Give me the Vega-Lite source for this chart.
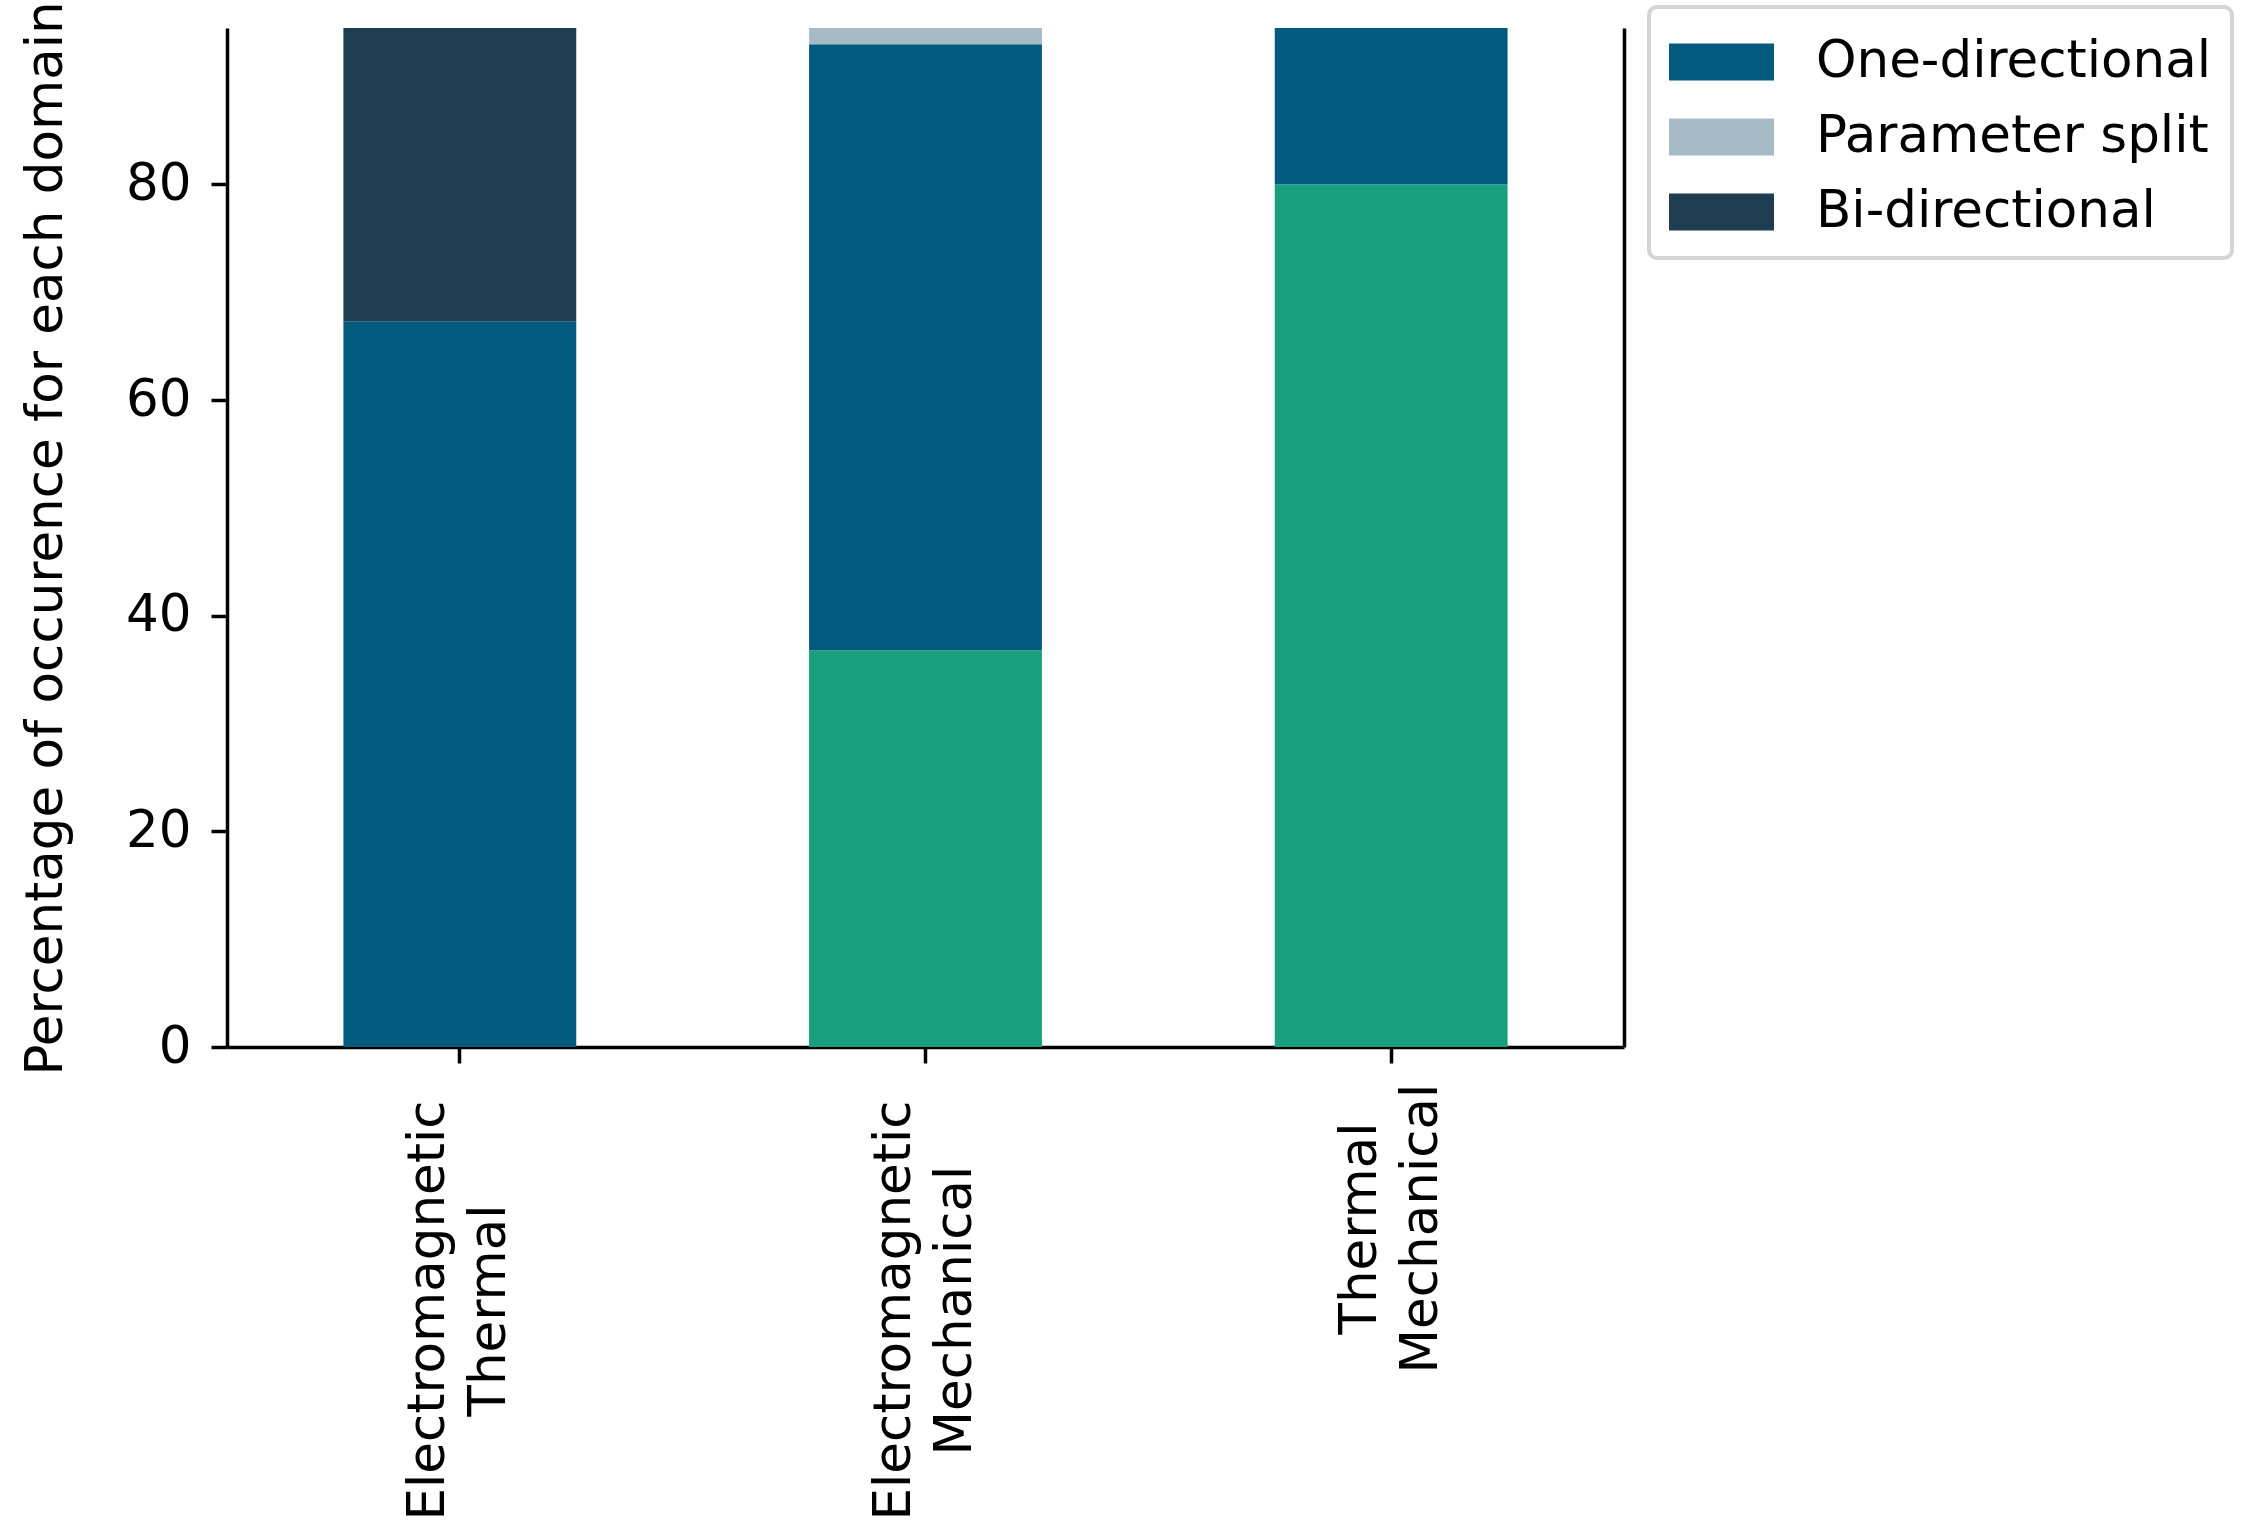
{
  "$schema": "https://vega.github.io/schema/vega-lite/v6.json",
  "width": 1397,
  "height": 1019,
  "autosize": {"type": "none"},
  "padding": {"left": 227, "top": 28, "right": 631, "bottom": 486},
  "background": "white",
  "config": {
    "font": "DejaVu Sans",
    "view": {"stroke": null},
    "axis": {
      "domainColor": "black",
      "domainWidth": 3.5,
      "tickColor": "black",
      "tickWidth": 3.5,
      "tickSize": 16,
      "labelColor": "black",
      "labelFontSize": 51.5,
      "labelFont": "DejaVu Sans",
      "titleFont": "DejaVu Sans",
      "titleFontSize": 51.5,
      "titleFontWeight": "normal",
      "titleColor": "black",
      "grid": false
    }
  },
  "data": {
    "values": [
      {"domain": "Electromagnetic Thermal", "type": "One-directional", "k": 1, "pct": 67.3},
      {"domain": "Electromagnetic Thermal", "type": "Bi-directional", "k": 3, "pct": 32.7},
      {"domain": "Electromagnetic Mechanical", "type": "Other", "k": 0, "pct": 36.8},
      {"domain": "Electromagnetic Mechanical", "type": "One-directional", "k": 1, "pct": 56.2},
      {"domain": "Electromagnetic Mechanical", "type": "Parameter split", "k": 2, "pct": 7.0},
      {"domain": "Thermal Mechanical", "type": "Other", "k": 0, "pct": 80.0},
      {"domain": "Thermal Mechanical", "type": "One-directional", "k": 1, "pct": 20.0}
    ]
  },
  "layer": [
    {
      "mark": {"type": "bar", "clip": true},
      "encoding": {
        "x": {
          "field": "domain",
          "type": "nominal",
          "sort": ["Electromagnetic Thermal", "Electromagnetic Mechanical", "Thermal Mechanical"],
          "scale": {"paddingInner": 0.5, "paddingOuter": 0.25},
          "axis": {
            "title": null,
            "labelAngle": 270,
            "labelAlign": "center",
            "labelBaseline": "middle",
            "labelExpr": "split(datum.label, ' ')",
            "labelLineHeight": 61,
            "labelLimit": 1000,
            "labelOffset": -30.5,
            "labelPadding": {"condition": {"test": "datum.value == 'Thermal Mechanical'", "value": 165}, "value": 247}
          }
        },
        "y": {
          "field": "pct",
          "type": "quantitative",
          "stack": "zero",
          "scale": {"domain": [0, 94.5], "nice": false, "zero": true},
          "axis": {
            "orient": "left",
            "values": [0, 20, 40, 60, 80],
            "labelPadding": 20,
            "labelFlush": false,
            "title": "Percentage of occurence for each domain",
            "titleAngle": 270,
            "titleAlign": "left",
            "titleBaseline": "alphabetic",
            "titleX": -166,
            "titleY": 1047
          }
        },
        "color": {
          "field": "type",
          "type": "nominal",
          "scale": {
            "domain": ["Other", "One-directional", "Parameter split", "Bi-directional"],
            "range": ["#199e7e", "#025b7e", "#a7bbc7", "#1e3d50"]
          },
          "legend": {
            "values": ["One-directional", "Parameter split", "Bi-directional"],
            "orient": "none",
            "legendX": 1422,
            "legendY": -21,
            "title": null,
            "symbolType": "M-1,-0.53H2V0.53H-1Z",
            "symbolSize": 4900,
            "symbolStrokeWidth": 0,
            "symbolOpacity": 1,
            "labelFontSize": 51.5,
            "labelFont": "DejaVu Sans",
            "labelColor": "black",
            "labelOffset": 77,
            "labelLimit": 1000,
            "rowPadding": 14,
            "padding": 20,
            "strokeColor": "#d4d4d4",
            "cornerRadius": 8,
            "fillColor": "white",
            "encode": {"legend": {"update": {"strokeWidth": {"value": 4}}}}
          }
        },
        "order": {"field": "k", "type": "quantitative"}
      }
    },
    {
      "mark": {"type": "rule", "opacity": 0},
      "encoding": {
        "y": {
          "datum": 0,
          "type": "quantitative",
          "axis": {"orient": "right", "labels": false, "ticks": false, "title": null, "grid": false}
        }
      }
    }
  ],
  "resolve": {"axis": {"y": "independent"}}
}
